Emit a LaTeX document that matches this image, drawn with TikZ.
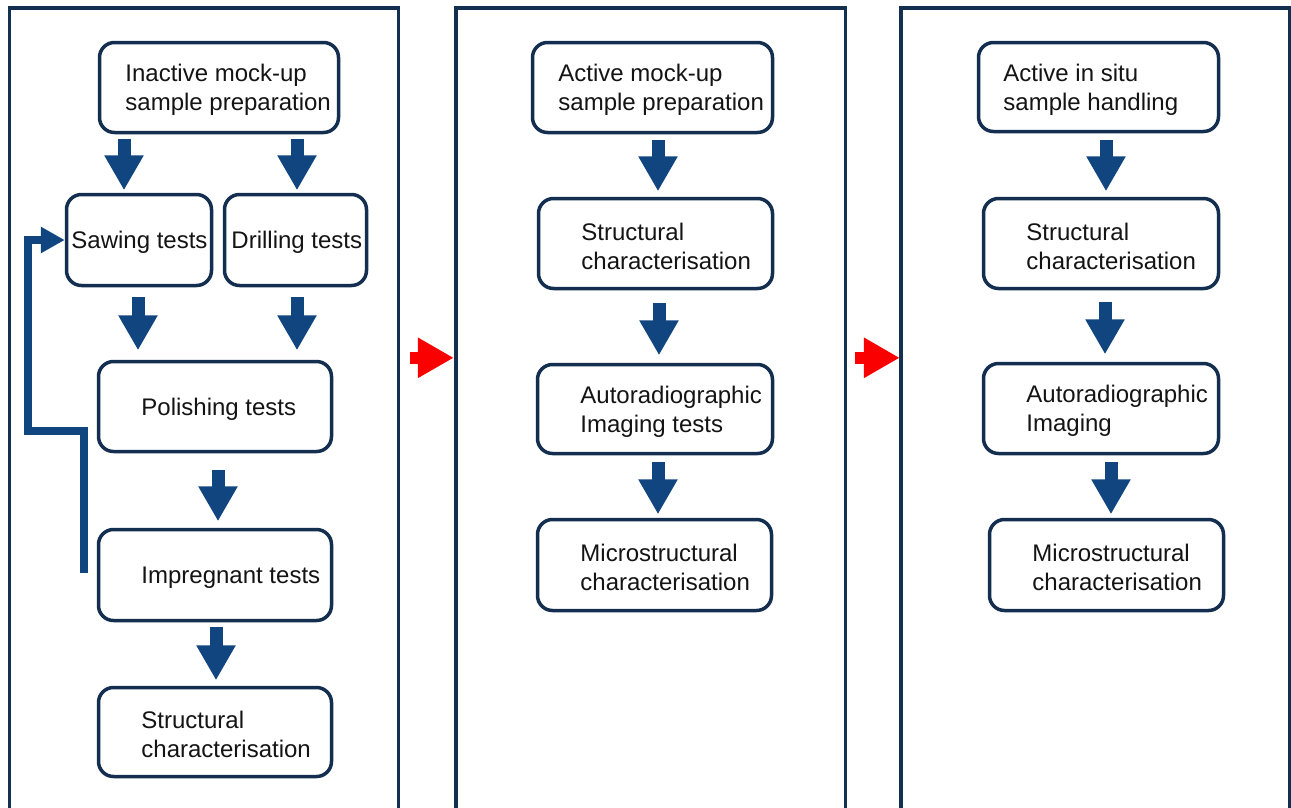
\documentclass[tikz,border=0pt]{standalone}
\usepackage{fontspec}
\setmainfont{Liberation Sans}
\usetikzlibrary{arrows.meta,calc}
\definecolor{panelc}{RGB}{20,48,80}
\definecolor{boxc}{RGB}{19,46,78}
\definecolor{arrowc}{RGB}{17,69,128}
\definecolor{txtc}{RGB}{20,20,20}
\definecolor{redc}{RGB}{250,0,0}
\newcommand\mkbox[7]{%
  \node[box, minimum width=#4pt, minimum height=#5pt] (#1) at (#2,#3) {};
  \node[txt, anchor=west] (#1t) at ($(#1.west)+(#6,2.5)$) {#7};}
\begin{document}
\begin{tikzpicture}[x=1pt,y=-1pt,
  box/.style={draw=boxc, line width=3.5pt, rounded corners=15pt, fill=white, inner sep=0pt},
  txt/.style={inner sep=0pt, align=left, text=txtc, font=\fontsize{24}{29}\selectfont},
  panel/.style={draw=none, inner sep=0pt},
  panelline/.style={draw=panelc, line width=3.5pt},
  barrow/.style={draw=arrowc, line width=13pt, -{Triangle[width=37pt,length=35pt]}},
  fb/.style={draw=arrowc, line width=8pt, -{Triangle[width=25pt,length=24pt]}},
  redarrow/.style={draw=redc, line width=12pt, -{Triangle[width=38pt,length=36pt]}}]
\useasboundingbox[fill=white] (0,0) rectangle (1291,807);

% panels
\node[panel, minimum width=389pt, minimum height=800pt] (P1) at (204,408) {};
\node[panel, minimum width=389.5pt, minimum height=800pt] (P2) at (650.75,408) {};
\node[panel, minimum width=388.5pt, minimum height=800pt] (P3) at (1095.25,408) {};
\draw[panelline] (P1.south west) |- (P1.north east) -- (P1.south east);
\draw[panelline] (P2.south west) |- (P2.north east) -- (P2.south east);
\draw[panelline] (P3.south west) |- (P3.north east) -- (P3.south east);

% panel 1
\mkbox{A1}{219}{87.5}{239}{90}{27.5}{Inactive mock-up\\sample preparation}
\mkbox{A2}{139}{240}{145}{91}{6.5}{Sawing tests}
\mkbox{A3}{295.5}{240}{142}{91}{8.5}{Drilling tests}
\mkbox{A4}{215}{406.5}{233}{90}{44.5}{Polishing tests}
\mkbox{A5}{215}{575}{233}{91}{44.5}{Impregnant tests}
\mkbox{A6}{215}{732}{233}{89}{44.5}{Structural\\characterisation}

% panel 2
\mkbox{B1}{652.5}{87.5}{240}{90}{27.5}{Active mock-up\\sample preparation}
\mkbox{B2}{655.5}{243.5}{234}{90}{44.5}{Structural\\characterisation}
\mkbox{B3}{655}{409}{235}{89}{44.5}{Autoradiographic\\Imaging tests}
\mkbox{B4}{654.5}{565}{234}{91}{44.5}{Microstructural\\characterisation}

% panel 3
\mkbox{C1}{1098.5}{87}{240}{89}{26.5}{Active in situ\\sample handling}
\mkbox{C2}{1101}{243.5}{235}{90}{44.5}{Structural\\characterisation}
\mkbox{C3}{1101}{408.5}{235}{90}{44.5}{Autoradiographic\\Imaging}
\mkbox{C4}{1106.5}{565}{234}{91}{44.5}{Microstructural\\characterisation}

% block arrows panel 1
\draw[barrow] ([xshift=-95pt,yshift=-4.5pt]A1.south) -- ([xshift=-15pt,yshift=2.5pt]A2.north);
\draw[barrow] ([xshift=78pt,yshift=-4.5pt]A1.south) -- ([xshift=1.5pt,yshift=2.5pt]A3.north);
\draw[barrow] ([xshift=-1pt,yshift=-9.5pt]A2.south) -- ([xshift=-77pt,yshift=9.5pt]A4.north);
\draw[barrow] ([xshift=1.5pt,yshift=-9.5pt]A3.south) -- ([xshift=82pt,yshift=9.5pt]A4.north);
\draw[barrow] ([xshift=3pt,yshift=-16.5pt]A4.south) -- ([xshift=3pt,yshift=6.5pt]A5.north);
\draw[barrow] ([xshift=1pt,yshift=-4.5pt]A5.south) -- ([xshift=1pt,yshift=5.5pt]A6.north);

% block arrows panel 2
\draw[barrow] ([xshift=5.5pt,yshift=-5.5pt]B1.south) -- ([xshift=2.5pt,yshift=5.5pt]B2.north);
\draw[barrow] ([xshift=3.5pt,yshift=-12.5pt]B2.south) -- ([xshift=4pt,yshift=7.5pt]B3.north);
\draw[barrow] ([xshift=3pt,yshift=-6.5pt]B3.south) -- ([xshift=3.5pt,yshift=3.5pt]B4.north);

% block arrows panel 3
\draw[barrow] ([xshift=7.5pt,yshift=-6.5pt]C1.south) -- ([xshift=5pt,yshift=5.5pt]C2.north);
\draw[barrow] ([xshift=4pt,yshift=-11.5pt]C2.south) -- ([xshift=4pt,yshift=7.5pt]C3.north);
\draw[barrow] ([xshift=10pt,yshift=-6.5pt]C3.south) -- ([xshift=4.5pt,yshift=3.5pt]C4.north);

% feedback loop
\draw[fb] ([xshift=-12.5pt,yshift=2pt]A5.west) -- ++(0,-142.5) -- ++(-56,0) |- (A2.west);

% red arrows between panels
\draw[redarrow] ($(P1.north east)+(11,350)$) -- ($(P2.north west)+(-2,350)$);
\draw[redarrow] ($(P2.north east)+(9.5,350)$) -- ($(P3.north west)+(-1,350)$);
\end{tikzpicture}
\end{document}
